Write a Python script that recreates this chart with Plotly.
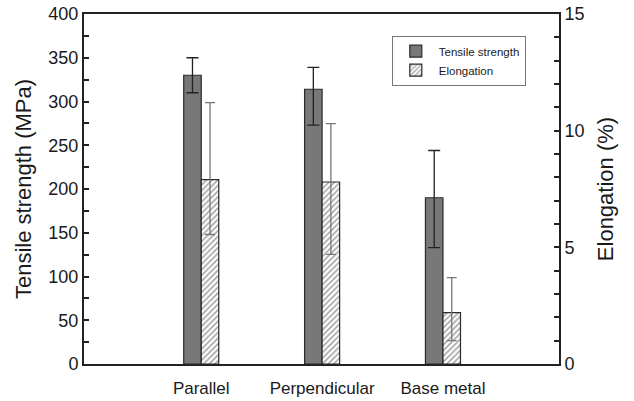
import plotly.graph_objects as go

categories = ["Parallel", "Perpendicular", "Base metal"]
tensile = [330, 314, 190]
tensile_plus = [20, 25, 54]
tensile_minus = [20, 41, 57]
elong = [7.9, 7.8, 2.2]
elong_plus = [3.3, 2.5, 1.5]
elong_minus = [2.35, 3.1, 1.2]

xpos = list(range(len(categories)))
font_family = "Liberation Sans, Arial, sans-serif"

fig = go.Figure()
fig.add_trace(go.Bar(
    x=xpos, y=tensile, name="Tensile strength",
    width=0.145, offset=-0.145,
    marker=dict(color="#787878", line=dict(color="#2a2a2a", width=1.2)),
    error_y=dict(type="data", symmetric=False, array=tensile_plus,
                 arrayminus=tensile_minus, color="#222222", thickness=1.3, width=6),
    yaxis="y",
))
fig.add_trace(go.Bar(
    x=xpos, y=elong, name="Elongation",
    width=0.145, offset=0,
    marker=dict(color="white", line=dict(color="#2a2a2a", width=1.2),
                pattern=dict(shape="/", fgcolor="#4a4a4a", bgcolor="white",
                             size=4, solidity=0.4)),
    error_y=dict(type="data", symmetric=False, array=elong_plus,
                 arrayminus=elong_minus, color="#777777", thickness=1.3, width=5),
    yaxis="y2",
))

fig.update_layout(
    width=634, height=401,
    margin=dict(l=84, r=75, t=14, b=37, autoexpand=False),
    paper_bgcolor="white", plot_bgcolor="white",
    barmode="overlay",
    font=dict(family=font_family, color="#1a1a1a"),
    showlegend=True,
    legend=dict(x=0.648, y=0.938, xanchor="left", yanchor="top",
                bordercolor="#777777", borderwidth=1, bgcolor="white",
                font=dict(size=11.5, family=font_family, color="#1a1a1a"),
                itemwidth=36, tracegroupgap=0),
    xaxis=dict(range=[-0.97, 2.96], tickmode="array", tickvals=xpos,
               ticktext=categories, showline=True, linecolor="#222222",
               linewidth=2, mirror=True, ticks="", showgrid=False,
               zeroline=False, tickfont=dict(size=17), automargin=False,
               ticklabelstandoff=8, ticklabeloverflow="allow"),
    yaxis=dict(range=[0, 400], dtick=50, ticks="inside", ticklen=5,
               tickwidth=1.5, tickcolor="#222222", showline=True,
               linecolor="#222222", linewidth=2, showgrid=False,
               zeroline=False, automargin=False, ticklabeloverflow="allow",
               minor=dict(dtick=25, ticks="inside", ticklen=5, tickwidth=1.5,
                          tickcolor="#222222"),
               tickfont=dict(size=18),
               title=dict(text="Tensile strength (MPa)", font=dict(size=22), standoff=11)),
    yaxis2=dict(range=[0, 15], dtick=5, ticks="inside", ticklen=5,
                tickwidth=1.5, tickcolor="#222222", overlaying="y", side="right",
                showline=True, linecolor="#222222", linewidth=2,
                showgrid=False, zeroline=False, automargin=False,
                ticklabeloverflow="allow",
                minor=dict(dtick=1, ticks="inside", ticklen=5, tickwidth=1.5,
                           tickcolor="#222222"),
                tickfont=dict(size=18),
                title=dict(text="Elongation (%)", font=dict(size=22), standoff=14)),
)

# remove the browser's default 8px body margin so the figure sits at the page origin
fig.write_html("out.html", config={"displayModeBar": False},
               post_script="document.body.style.margin='0';")
